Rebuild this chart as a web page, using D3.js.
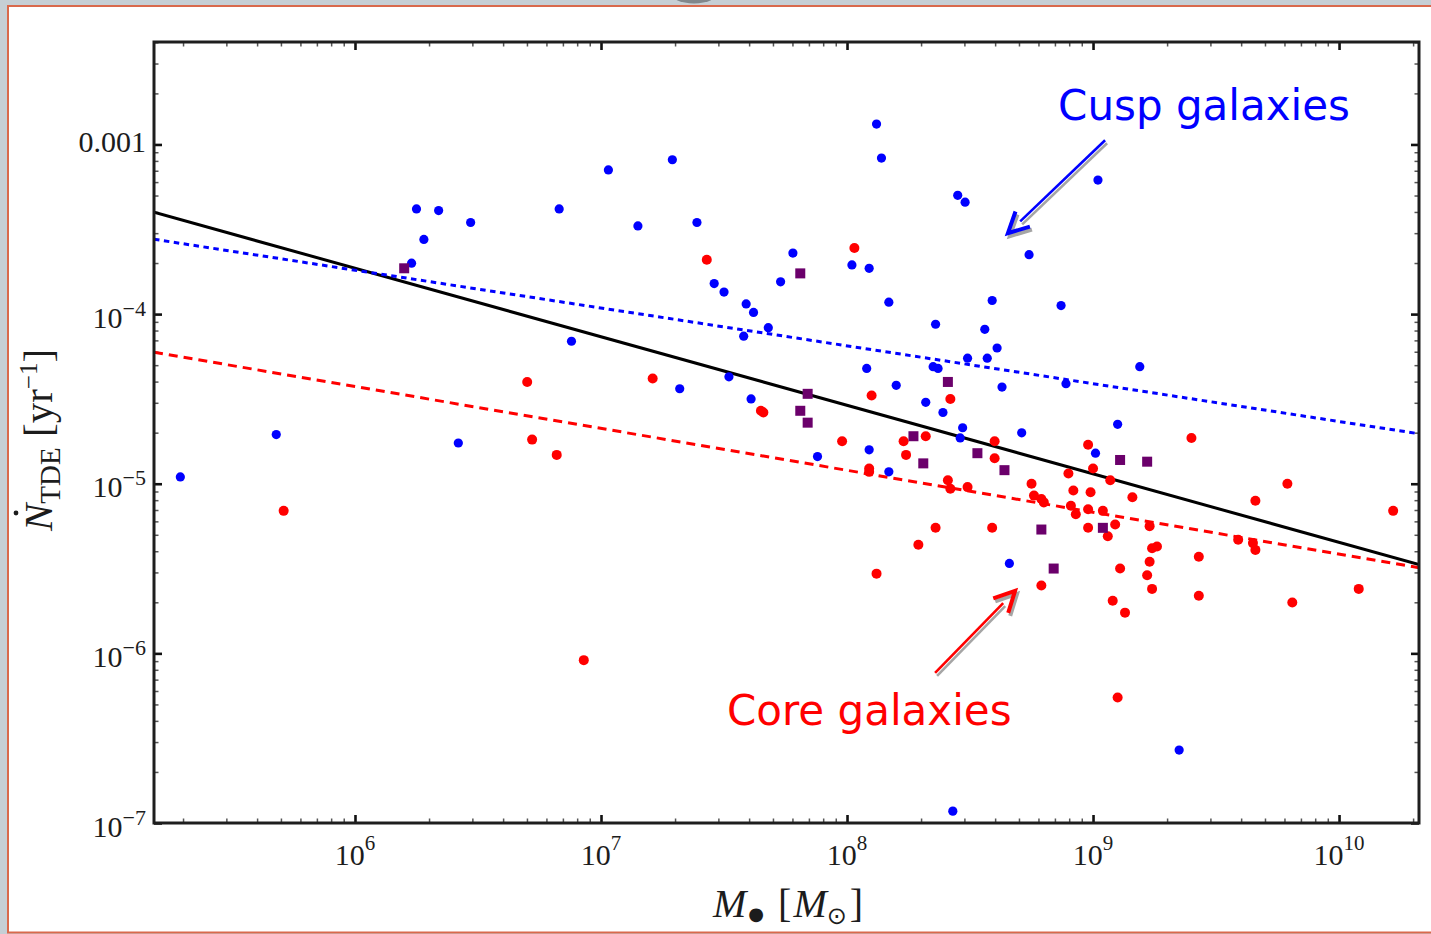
<!DOCTYPE html>
<html>
<head>
<meta charset="utf-8">
<script src="https://cdn.jsdelivr.net/npm/d3@7"></script>
<style>
  html, body { margin: 0; padding: 0; background: #c6cfd5; }
  svg { display: block; }
</style>
</head>
<body>
<svg id="chart" width="1431" height="934"></svg>
<script>
// ---- Data: log10 black-hole mass [Msun] and log10 TDE rate [1/yr] ----
const cuspLogMass = [5.29, 5.68, 6.42, 6.23, 6.25, 6.28, 6.34, 6.47, 6.83, 6.88, 7.03, 7.15, 7.29, 7.32, 7.39, 7.46,
  7.50, 7.52, 7.59, 7.62, 7.58, 7.61, 7.68, 7.73, 7.78, 7.88, 8.02, 8.09, 8.12, 8.14, 8.17, 8.08, 8.20, 8.09, 8.17,
  8.32, 8.36, 8.35, 8.37, 8.39, 8.45, 8.48, 8.47, 8.46, 8.49, 8.56, 8.57, 8.59, 8.61, 8.63, 8.66, 8.71, 8.74, 8.87,
  8.89, 9.01, 9.02, 9.10, 9.19, 9.35, 8.43];
const cuspLogRate = [-4.96, -4.71, -4.76, -3.70, -3.38, -3.56, -3.39, -3.46, -3.38, -4.16, -3.15, -3.48, -3.09, -4.44,
  -3.46, -3.82, -3.87, -4.37, -3.94, -3.99, -4.13, -4.50, -4.08, -3.81, -3.64, -4.84, -3.71, -3.73, -2.88, -3.08,
  -3.93, -4.32, -4.42, -4.80, -4.93, -4.52, -4.06, -4.31, -4.32, -4.58, -3.30, -3.34, -4.67, -4.73, -4.26, -4.09,
  -4.26, -3.92, -4.20, -4.43, -5.47, -4.70, -3.65, -3.95, -4.41, -4.82, -3.21, -4.65, -4.31, -6.57, -6.93];

const coreLogMass = [5.71, 6.70, 6.72, 6.82, 6.93, 7.21, 7.43, 7.65, 7.66, 7.98, 8.03, 8.10, 8.09, 8.09, 8.12, 8.23,
  8.24, 8.32, 8.29, 8.36, 8.41, 8.42, 8.42, 8.49, 8.59, 8.60, 8.60, 8.75, 8.76, 8.79, 8.80, 8.79, 8.90, 8.91, 8.92,
  8.93, 8.98, 9.00, 8.99, 8.98, 8.98, 9.04, 9.07, 9.06, 9.09, 9.08, 9.11, 9.13, 9.10, 9.16, 9.23, 9.24, 9.26, 9.23,
  9.22, 9.24, 9.40, 9.43, 9.43, 9.59, 9.65, 9.66, 9.66, 9.79, 9.81, 10.08, 10.22];
const coreLogRate = [-5.16, -4.40, -4.74, -4.83, -6.04, -4.38, -3.68, -4.57, -4.58, -4.75, -3.61, -4.48, -4.91, -4.93,
  -5.53, -4.75, -4.83, -4.72, -5.36, -5.26, -4.98, -5.03, -4.50, -5.02, -5.26, -4.75, -4.85, -5.00, -5.07, -5.09,
  -5.11, -5.60, -4.94, -5.13, -5.04, -5.18, -4.77, -4.91, -5.05, -5.15, -5.26, -5.16, -4.98, -5.31, -5.24, -5.69,
  -5.50, -5.76, -6.26, -5.08, -5.25, -5.38, -5.37, -5.46, -5.54, -5.62, -4.73, -5.43, -5.66, -5.33, -5.35, -5.39,
  -5.10, -5.00, -5.70, -5.62, -5.16];

const intermediateLogMass = [6.20, 7.81, 7.84, 7.81, 7.84, 8.27, 8.31, 8.41, 8.53, 8.64, 8.79, 8.84, 9.04, 9.11, 9.22];
const intermediateLogRate = [-3.73, -3.76, -4.47, -4.57, -4.64, -4.72, -4.88, -4.40, -4.82, -4.92, -5.27, -5.50,
  -5.26, -4.86, -4.87];

// Power-law fits  Ndot = A (M / 1e8 Msun)^beta
const fitNames = ["all", "cusp", "core"];
const fitNorm = [2.9e-5, 6.5e-5, 1.2e-5];
const fitSlope = [-0.404, -0.223, -0.247];

// Tick labels
const xTickExponents = ["6", "7", "8", "9", "10"];
const yTickValues = [1e-3, 1e-4, 1e-5, 1e-6, 1e-7];
const yTickBase = ["0.001", "10", "10", "10", "10"];
const yTickExponent = ["", "−4", "−5", "−6", "−7"];

// ---- Layout ----
const W = 1431, H = 934;
const P = { left: 154, right: 1419, top: 42, bottom: 823 };
const svg = d3.select("#chart");

// slide backdrop
svg.append("rect").attr("width", W).attr("height", H).attr("fill", "#c6cfd5");
svg.append("ellipse").attr("cx", 694).attr("cy", -8).attr("rx", 24).attr("ry", 11.5).attr("fill", "#80878b");
svg.append("rect").attr("x", 8).attr("y", 6).attr("width", W + 10).attr("height", 926.5)
  .attr("fill", "#ffffff").attr("stroke", "#d9694c").attr("stroke-width", 2);

// scales
const x = d3.scaleLog().domain([10 ** 5.183, 10 ** 10.325]).range([P.left, P.right]);
const y = d3.scaleLog().domain([1e-7, 10 ** -2.396]).range([P.bottom, P.top]);

const isDecade = v => Math.abs(Math.log10(v) - Math.round(Math.log10(v))) < 1e-9;
const xAll = x.ticks(), yAll = y.ticks();
const xMajor = xAll.filter(isDecade), xMinor = xAll.filter(v => !isDecade(v));
const yMajor = yAll.filter(isDecade), yMinor = yAll.filter(v => !isDecade(v));

function ticks(axisFn, scale, values, len, tx, ty, color, width) {
  const g = svg.append("g").attr("transform", `translate(${tx},${ty})`)
    .call(axisFn(scale).tickValues(values).tickSize(-len).tickSizeOuter(0).tickFormat(""));
  g.select(".domain").remove();
  g.selectAll(".tick line").attr("stroke", color).attr("stroke-width", width);
}
[[xMinor, 4.5, "#555", 1.5], [xMajor, 8, "#111", 2.6]].forEach(([v, l, c, w]) => {
  ticks(d3.axisBottom, x, v, l, 0, P.bottom, c, w);
  ticks(d3.axisTop, x, v, l, 0, P.top, c, w);
});
[[yMinor, 4.5, "#555", 1.5], [yMajor, 8, "#111", 2.6]].forEach(([v, l, c, w]) => {
  ticks(d3.axisLeft, y, v, l, P.left, 0, c, w);
  ticks(d3.axisRight, y, v, l, P.right, 0, c, w);
});

// fit lines
svg.append("clipPath").attr("id", "plotClip").append("rect")
  .attr("x", P.left).attr("y", P.top).attr("width", P.right - P.left).attr("height", P.bottom - P.top);
const fitStyle = {
  all: { color: "#000000", dash: null },
  cusp: { color: "#0000ff", dash: "5.5,4.5" },
  core: { color: "#ff0000", dash: "9,6" }
};
const line = d3.line().x(d => x(d[0])).y(d => y(d[1]));
const lineLayer = svg.append("g").attr("clip-path", "url(#plotClip)");
fitNames.forEach((name, i) => {
  const pts = x.domain().map(m => [m, fitNorm[i] * Math.pow(m / 1e8, fitSlope[i])]);
  lineLayer.append("path").attr("d", line(pts)).attr("fill", "none")
    .attr("stroke", fitStyle[name].color).attr("stroke-width", 3)
    .attr("stroke-dasharray", fitStyle[name].dash);
});

// galaxy points
const pts = (lm, lr) => lm.map((m, i) => [10 ** m, 10 ** lr[i]]);
const marks = svg.append("g");
marks.selectAll(".cusp").data(pts(cuspLogMass, cuspLogRate)).join("circle")
  .attr("class", "cusp").attr("cx", d => x(d[0])).attr("cy", d => y(d[1])).attr("r", 4.6).attr("fill", "#0000ff");
marks.selectAll(".core").data(pts(coreLogMass, coreLogRate)).join("circle")
  .attr("class", "core").attr("cx", d => x(d[0])).attr("cy", d => y(d[1])).attr("r", 5).attr("fill", "#ff0000");
marks.selectAll(".intermediate").data(pts(intermediateLogMass, intermediateLogRate)).join("rect")
  .attr("class", "intermediate").attr("x", d => x(d[0]) - 5).attr("y", d => y(d[1]) - 5)
  .attr("width", 10).attr("height", 10).attr("fill", "#6b006b");

// frame
svg.append("rect").attr("x", P.left).attr("y", P.top).attr("width", P.right - P.left).attr("height", P.bottom - P.top)
  .attr("fill", "none").attr("stroke", "#1e1e1e").attr("stroke-width", 3);

// tick labels
const serif = "'Liberation Serif', 'DejaVu Serif', serif";
const ink = "#1c1c1c";
xMajor.forEach((v, i) => {
  const t = svg.append("text").attr("x", x(v)).attr("y", P.bottom + 42).attr("text-anchor", "middle")
    .attr("font-family", serif).attr("font-size", 30).attr("fill", ink);
  t.append("tspan").text("10");
  t.append("tspan").attr("dy", -15).attr("font-size", 21).text(xTickExponents[i]);
});
yTickValues.forEach((v, i) => {
  const t = svg.append("text").attr("x", 146).attr("text-anchor", "end")
    .attr("y", y(v) + (yTickExponent[i] ? 13.5 : 8))
    .attr("font-family", serif).attr("font-size", 30).attr("fill", ink);
  t.append("tspan").text(yTickBase[i]);
  if (yTickExponent[i]) t.append("tspan").attr("dy", -12).attr("font-size", 22).text(yTickExponent[i]);
});

// axis titles
const xt = svg.append("text").attr("x", 713).attr("y", 917).attr("font-family", serif)
  .attr("font-size", 40).attr("fill", ink);
xt.append("tspan").attr("font-style", "italic").text("M");
xt.append("tspan").attr("font-family", "'DejaVu Sans'").attr("font-size", 18).attr("dy", 3).attr("dx", 2).text("●");
xt.append("tspan").attr("dy", -3).attr("dx", 14).text("[");
xt.append("tspan").attr("font-style", "italic").attr("dx", 2).text("M");
xt.append("tspan").attr("font-family", "'DejaVu Sans'").attr("font-size", 24).attr("dy", 7).text("⊙");
xt.append("tspan").attr("dy", -7).attr("dx", 3).text("]");

const yg = svg.append("g").attr("transform", "translate(52,531) rotate(-90)");
const yt = yg.append("text").attr("font-family", serif).attr("font-size", 41).attr("fill", ink);
yt.append("tspan").attr("font-style", "italic").text("N");
yt.append("tspan").attr("font-size", 29).attr("dy", 8).text("TDE");
yt.append("tspan").attr("dy", -8).text(" [yr");
yt.append("tspan").attr("font-size", 25).attr("dy", -15).text("−1");
yt.append("tspan").attr("dy", 15).text("]");
yg.append("circle").attr("cx", 18).attr("cy", -36).attr("r", 2.4).attr("fill", ink);

// annotations (anchored in data coordinates)
const notes = [
  { text: "Cusp galaxies", color: "#0000ff", at: [8.858, -2.857], tail: [9.049, -2.975], tip: [8.654, -3.523] },
  { text: "Core galaxies", color: "#ff0000", at: [7.512, -6.421], tail: [8.358, -6.115], tip: [8.683, -5.632] }
];
const px = p => [x(10 ** p[0]), y(10 ** p[1])];
notes.forEach(n => {
  const [x1, y1] = px(n.tail), [x2, y2] = px(n.tip);
  const ang = Math.atan2(y1 - y2, x1 - x2), a = 27 * Math.PI / 180, L = 23, gap = 17;
  const a1 = [x2 + L * Math.cos(ang + a), y2 + L * Math.sin(ang + a)];
  const a2 = [x2 + L * Math.cos(ang - a), y2 + L * Math.sin(ang - a)];
  const sx = x2 + gap * Math.cos(ang), sy = y2 + gap * Math.sin(ang);
  [["#a5a5a5", 2, 3], [n.color, 0, 0]].forEach(([c, dx, dy]) => {
    const g = svg.append("g").attr("transform", `translate(${dx},${dy})`);
    g.append("line").attr("x1", x1).attr("y1", y1).attr("x2", sx).attr("y2", sy)
      .attr("stroke", c).attr("stroke-width", 2.6);
    g.append("path").attr("d", `M${a1[0]},${a1[1]}L${x2},${y2}L${a2[0]},${a2[1]}`)
      .attr("fill", "none").attr("stroke", c).attr("stroke-width", 4).attr("stroke-linejoin", "miter");
  });
  const [tx, ty] = px(n.at);
  svg.append("text").attr("x", tx).attr("y", ty).attr("font-family", "'DejaVu Sans', sans-serif")
    .attr("font-size", 42).attr("fill", n.color).text(n.text);
});
</script>
</body>
</html>
